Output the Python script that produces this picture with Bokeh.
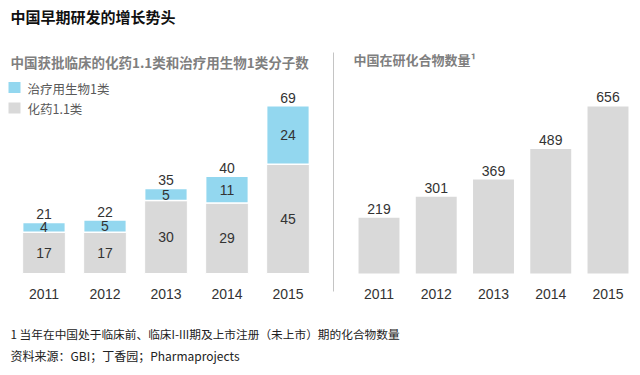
from bokeh.plotting import figure
from bokeh.models import Range1d, ColumnDataSource
from bokeh.core.properties import value
from bokeh.embed import file_html
from bokeh.resources import INLINE

# ---- data ----
years = ["2011", "2012", "2013", "2014", "2015"]
chem_11 = [17, 17, 30, 29, 45]        # 化药1.1类
bio_1 = [4, 5, 5, 11, 24]             # 治疗用生物1类
totals_left = [21, 22, 35, 40, 69]
compounds = [219, 301, 369, 489, 656]  # 中国在研化合物数量

title = "中国早期研发的增长势头"
sub_left = "中国获批临床的化药1.1类和治疗用生物1类分子数"
sub_right = "中国在研化合物数量¹"
legend_labels = ["治疗用生物1类", "化药1.1类"]
footnote = "1 当年在中国处于临床前、临床I-III期及上市注册（未上市）期的化合物数量"
source_note = "资料来源：GBI；丁香园；Pharmaprojects"

CYAN = "#93d7ef"
GRAY = "#d9d9d9"
CJK = value("Noto Sans CJK SC")
LAT = value("Liberation Sans")

W, H = 632, 367
p = figure(width=W, height=H, output_backend="svg", toolbar_location=None,
           x_range=Range1d(0, W), y_range=Range1d(H, 0), min_border=0)
p.xaxis.visible = False
p.yaxis.visible = False
p.grid.visible = False
p.outline_line_color = None
p.background_fill_color = "white"
p.border_fill_color = "white"

# --- scales for the two panels ---
base_px = H - 273.0  # baseline distance from bottom (px)
# left panel
lu = 61.0
ls = -43.5 / lu
p.extra_x_ranges["lx"] = Range1d(ls, ls + W / lu)
lsc = 2.43
lys = -base_px / lsc
p.extra_y_ranges["ly"] = Range1d(lys, lys + H / lsc)
# right panel
ru = 57.25
rs = -378.5 / ru
p.extra_x_ranges["rx"] = Range1d(rs, rs + W / ru)
rsc = 0.2546
rys = -base_px / rsc
p.extra_y_ranges["ry"] = Range1d(rys, rys + H / rsc)

idx = list(range(len(years)))
bio_top = [c + b for c, b in zip(chem_11, bio_1)]
ls_src = ColumnDataSource(dict(
    x=idx, chem=chem_11, bio=bio_1, top=bio_top, tot=totals_left,
    chem_mid=[c / 2 for c in chem_11],
    bio_mid=[c + b / 2 for c, b in zip(chem_11, bio_1)],
    chem_lbl=[str(v) for v in chem_11], bio_lbl=[str(v) for v in bio_1],
    tot_lbl=[str(v) for v in totals_left], yr=years))

p.vbar(x="x", top="chem", bottom=0, width=0.70, source=ls_src,
       fill_color=GRAY, line_color="white", line_width=1,
       x_range_name="lx", y_range_name="ly")
p.vbar(x="x", top="top", bottom="chem", width=0.70, source=ls_src,
       fill_color=CYAN, line_color="white", line_width=1.5,
       x_range_name="lx", y_range_name="ly")
p.text(x="x", y="chem_mid", text="chem_lbl", source=ls_src, text_font=LAT,
       text_font_size="14px", text_color="#333333", text_align="center",
       text_baseline="middle", x_range_name="lx", y_range_name="ly")
p.text(x="x", y="bio_mid", text="bio_lbl", source=ls_src, text_font=LAT,
       text_font_size="14px", text_color="#333333", text_align="center",
       text_baseline="middle", x_range_name="lx", y_range_name="ly")
p.text(x="x", y="tot", text="tot_lbl", source=ls_src, text_font=LAT,
       text_font_size="14px", text_color="#333333", text_align="center",
       text_baseline="bottom", y_offset=-3, x_range_name="lx", y_range_name="ly")
p.text(x="x", y=293, text="yr", source=ls_src, text_font=LAT,
       text_font_size="14px", text_color="#333333", text_align="center",
       text_baseline="middle", x_range_name="lx")

rs_src = ColumnDataSource(dict(x=idx, v=compounds,
                               lbl=[str(v) for v in compounds], yr=years))
p.vbar(x="x", top="v", bottom=0, width=0.715, source=rs_src,
       fill_color=GRAY, line_color=None,
       x_range_name="rx", y_range_name="ry")
p.text(x="x", y="v", text="lbl", source=rs_src, text_font=LAT,
       text_font_size="14px", text_color="#333333", text_align="center",
       text_baseline="bottom", y_offset=-4, x_range_name="rx", y_range_name="ry")
p.text(x="x", y=293, text="yr", source=rs_src, text_font=LAT,
       text_font_size="14px", text_color="#333333", text_align="center",
       text_baseline="middle", x_range_name="rx")

# divider
p.segment(x0=[333], y0=[52], x1=[333], y1=[291], line_color="#c4c4c4", line_width=1)

# titles
p.text(x=[10], y=[16], text=[title], text_font=CJK, text_font_style="bold",
       text_font_size="15px", text_color="#111111", text_baseline="middle")
p.text(x=[10], y=[61], text=[sub_left], text_font=CJK, text_font_style="bold",
       text_font_size="13.5px", text_color="#7f7f7f", text_baseline="middle")
p.text(x=[353], y=[59], text=[sub_right], text_font=CJK, text_font_style="bold",
       text_font_size="13px", text_color="#7f7f7f", text_baseline="middle")

# legend
p.rect(x=[14, 14], y=[87, 107.5], width=12, height=11, fill_color=[CYAN, GRAY], line_color=None)
p.text(x=[27, 27], y=[88, 108], text=legend_labels, text_font=CJK,
       text_font_size="12.5px", text_color="#595959", text_baseline="middle")

# footnotes
p.text(x=[10], y=[333], text=[footnote], text_font=CJK, text_font_size="11.7px",
       text_color="#222222", text_baseline="middle")
p.text(x=[10], y=[355], text=[source_note], text_font=CJK, text_font_size="12px",
       text_color="#222222", text_baseline="middle")

open("out.html", "w").write(file_html(p, INLINE))
